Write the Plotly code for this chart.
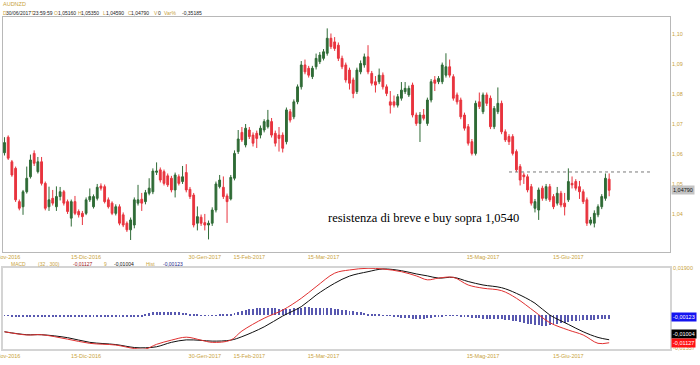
import pandas as pd
import plotly.graph_objects as go

# ---------------- data ----------------
dates = [d.strftime("%Y-%m-%d") for d in pd.bdate_range("2016-11-15", "2017-06-30")]

opens = [1.0604,1.0656,1.0574,1.0552,1.0441,1.0424,1.0474,1.0524,1.0602,1.0541,
         1.0574,1.0502,1.0424,1.0452,1.0424,1.0458,1.0474,1.0441,1.0386,1.0441,
         1.0408,1.0402,1.0402,1.0447,1.0424,1.0452,1.0493,1.0491,1.0447,1.0436,
         1.0402,1.0424,1.0397,1.0369,1.0347,1.0363,1.0436,1.0449,1.0441,1.0469,
         1.0474,1.0539,1.0547,1.0541,1.0527,1.0519,1.0480,1.0524,1.0508,1.0538,
         1.0482,1.0463,1.0369,1.0389,1.0371,1.0363,1.0369,1.0413,1.0491,1.0489,
         1.0460,1.0450,1.0519,1.0608,1.0672,1.0630,1.0680,1.0663,1.0669,1.0663,
         1.0680,1.0691,1.0708,1.0669,1.0663,1.0663,1.0641,1.0741,1.0724,1.0774,
         1.0824,1.0897,1.0886,1.0858,1.0891,1.0908,1.0919,1.0936,1.0986,1.0974,
         1.0963,1.0919,1.0897,1.0880,1.0847,1.0808,1.0874,1.0897,1.0924,1.0869,
         1.0841,1.0841,1.0863,1.0824,1.0774,1.0774,1.0763,1.0786,1.0808,1.0797,
         1.0830,1.0730,1.0702,1.0730,1.0702,1.0780,1.0847,1.0841,1.0841,1.0863,
         1.0891,1.0858,1.0797,1.0780,1.0730,1.0691,1.0641,1.0602,1.0774,1.0741,
         1.0797,1.0786,1.0691,1.0741,1.0769,1.0674,1.0658,1.0658,1.0608,1.0558,
         1.0530,1.0524,1.0491,1.0419,1.0413,1.0486,1.0452,1.0491,1.0458,1.0436,
         1.0469,1.0436,1.0447,1.0502,1.0508,1.0491,1.0474,1.0447,1.0369,1.0369,
         1.0397,1.0424,1.0452,1.0516]
highs = [1.0656,1.0662,1.0580,1.0558,1.0448,1.0480,1.0558,1.0598,1.0612,1.0590,
         1.0590,1.0508,1.0491,1.0480,1.0492,1.0490,1.0480,1.0448,1.0448,1.0460,
         1.0415,1.0410,1.0455,1.0485,1.0465,1.0500,1.0502,1.0498,1.0455,1.0442,
         1.0432,1.0432,1.0405,1.0375,1.0388,1.0455,1.0497,1.0470,1.0480,1.0519,
         1.0552,1.0572,1.0555,1.0548,1.0535,1.0527,1.0538,1.0532,1.0560,1.0566,
         1.0490,1.0470,1.0425,1.0398,1.0400,1.0378,1.0422,1.0508,1.0530,1.0525,
         1.0468,1.0530,1.0612,1.0680,1.0690,1.0700,1.0690,1.0672,1.0678,1.0695,
         1.0716,1.0747,1.0720,1.0678,1.0690,1.0672,1.0755,1.0750,1.0782,1.0832,
         1.0910,1.0915,1.0894,1.0894,1.0935,1.0940,1.0950,1.1019,1.1002,1.0990,
         1.0972,1.0928,1.0905,1.0888,1.0855,1.0888,1.0912,1.0935,1.0963,1.0877,
         1.0860,1.0885,1.0872,1.0832,1.0810,1.0795,1.0800,1.0840,1.0840,1.0828,
         1.0838,1.0738,1.0740,1.0750,1.0788,1.0850,1.0860,1.0860,1.0905,1.0936,
         1.0915,1.0866,1.0805,1.0788,1.0738,1.0700,1.0650,1.0778,1.0805,1.0805,
         1.0805,1.0795,1.0760,1.0822,1.0778,1.0682,1.0666,1.0666,1.0615,1.0566,
         1.0538,1.0532,1.0500,1.0450,1.0488,1.0494,1.0500,1.0500,1.0466,1.0490,
         1.0477,1.0470,1.0552,1.0525,1.0516,1.0510,1.0482,1.0455,1.0390,1.0412,
         1.0432,1.0466,1.0535,1.0535]
lows = [1.0595,1.0580,1.0524,1.0440,1.0412,1.0397,1.0468,1.0518,1.0560,1.0535,
        1.0495,1.0412,1.0410,1.0428,1.0410,1.0445,1.0428,1.0400,1.0358,1.0396,
        1.0388,1.0363,1.0396,1.0440,1.0418,1.0445,1.0478,1.0435,1.0418,1.0396,
        1.0395,1.0362,1.0356,1.0340,1.0313,1.0352,1.0428,1.0410,1.0432,1.0462,
        1.0466,1.0530,1.0505,1.0495,1.0490,1.0472,1.0455,1.0495,1.0500,1.0472,
        1.0450,1.0355,1.0345,1.0360,1.0345,1.0315,1.0360,1.0405,1.0485,1.0450,
        1.0370,1.0445,1.0512,1.0600,1.0640,1.0622,1.0650,1.0625,1.0620,1.0652,
        1.0672,1.0685,1.0655,1.0625,1.0608,1.0605,1.0632,1.0705,1.0716,1.0766,
        1.0815,1.0866,1.0855,1.0850,1.0882,1.0900,1.0912,1.0928,1.0950,1.0944,
        1.0910,1.0883,1.0838,1.0815,1.0786,1.0800,1.0866,1.0888,1.0866,1.0828,
        1.0805,1.0833,1.0815,1.0793,1.0735,1.0755,1.0755,1.0778,1.0800,1.0790,
        1.0722,1.0694,1.0640,1.0712,1.0694,1.0772,1.0810,1.0833,1.0833,1.0855,
        1.0855,1.0778,1.0765,1.0716,1.0678,1.0628,1.0595,1.0595,1.0750,1.0733,
        1.0760,1.0683,1.0683,1.0733,1.0666,1.0640,1.0630,1.0595,1.0540,1.0495,
        1.0500,1.0472,1.0428,1.0405,1.0380,1.0444,1.0444,1.0440,1.0416,1.0428,
        1.0422,1.0395,1.0440,1.0485,1.0478,1.0450,1.0433,1.0360,1.0362,1.0355,
        1.0389,1.0416,1.0444,1.0459]
closes = [1.0638,1.0586,1.0530,1.0447,1.0419,1.0474,1.0519,1.0580,1.0569,1.0574,
          1.0502,1.0419,1.0447,1.0436,1.0458,1.0474,1.0436,1.0408,1.0441,1.0402,
          1.0397,1.0391,1.0447,1.0458,1.0458,1.0489,1.0486,1.0441,1.0424,1.0402,
          1.0424,1.0369,1.0363,1.0347,1.0380,1.0447,1.0447,1.0436,1.0471,1.0486,
          1.0543,1.0543,1.0513,1.0502,1.0497,1.0480,1.0530,1.0502,1.0524,1.0480,
          1.0458,1.0363,1.0391,1.0369,1.0363,1.0369,1.0413,1.0500,1.0513,1.0458,
          1.0441,1.0522,1.0602,1.0650,1.0647,1.0686,1.0658,1.0636,1.0652,1.0686,
          1.0708,1.0713,1.0663,1.0636,1.0652,1.0619,1.0747,1.0713,1.0774,1.0824,
          1.0897,1.0874,1.0863,1.0886,1.0919,1.0930,1.0941,1.0986,1.0958,1.0952,
          1.0919,1.0891,1.0847,1.0836,1.0802,1.0880,1.0902,1.0924,1.0874,1.0836,
          1.0830,1.0863,1.0824,1.0802,1.0763,1.0763,1.0791,1.0813,1.0819,1.0819,
          1.0730,1.0702,1.0730,1.0719,1.0780,1.0841,1.0836,1.0852,1.0897,1.0891,
          1.0863,1.0786,1.0774,1.0724,1.0686,1.0636,1.0602,1.0769,1.0758,1.0797,
          1.0769,1.0691,1.0752,1.0769,1.0674,1.0647,1.0641,1.0602,1.0547,1.0513,
          1.0524,1.0480,1.0436,1.0441,1.0480,1.0452,1.0491,1.0447,1.0424,1.0469,
          1.0430,1.0424,1.0508,1.0497,1.0486,1.0474,1.0441,1.0369,1.0380,1.0402,
          1.0424,1.0458,1.0519,1.0479]

hist = [-0.0003,-0.0003,-0.0004,-0.0005,-0.0007,-0.0008,-0.0008,-0.0008,-0.0009,-0.0008,
        -0.0008,-0.0008,-0.0009,-0.0008,-0.0008,-0.0009,-0.0010,-0.0010,-0.0010,-0.0010,
        -0.0010,-0.0010,-0.0009,-0.0009,-0.0010,-0.0010,-0.0010,-0.0010,-0.0010,-0.0009,
        -0.0009,-0.0010,-0.0010,-0.0010,-0.0009,-0.0008,-0.0006,-0.0004,0.0004,0.0008,
        0.0011,0.0012,0.0012,0.0012,0.0012,0.0012,0.0011,0.0011,0.0010,0.0009,
        0.0006,0.0002,0.0001,-0.0002,-0.0003,-0.0003,-0.0002,-0.0001,0.0002,0.0003,
        0.0002,0.0004,0.0010,0.0014,0.0018,0.0021,0.0024,0.0026,0.0028,0.0029,
        0.0030,0.0030,0.0029,0.0028,0.0026,0.0025,0.0024,0.0026,0.0027,0.0028,
        0.0030,0.0031,0.0031,0.0030,0.0030,0.0030,0.0029,0.0030,0.0028,0.0026,
        0.0024,0.0022,0.0020,0.0018,0.0016,0.0014,0.0012,0.0009,0.0006,0.0003,
        0.0002,0.0001,-0.0001,-0.0002,-0.0003,-0.0008,-0.0010,-0.0012,-0.0013,-0.0014,
        -0.0015,-0.0016,-0.0016,-0.0015,-0.0014,-0.0012,-0.0010,-0.0008,-0.0006,-0.0003,
        -0.0002,-0.0001,-0.0002,-0.0004,-0.0008,-0.0010,-0.0012,-0.0013,-0.0014,-0.0015,
        -0.0015,-0.0016,-0.0016,-0.0017,-0.0018,-0.0019,-0.0021,-0.0023,-0.0026,-0.0029,
        -0.0032,-0.0035,-0.0038,-0.0040,-0.0042,-0.0043,-0.0043,-0.0042,-0.0040,-0.0037,
        -0.0034,-0.0031,-0.0028,-0.0026,-0.0024,-0.0023,-0.0022,-0.0021,-0.0020,-0.0019,
        -0.0018,-0.0017,-0.0016,-0.0015]

line_idx = [0, 6, 10, 17, 23, 30, 35, 38, 41, 45, 49, 53, 56, 61, 64, 70, 75, 80, 84,
            89, 93, 98, 102, 107, 111, 114, 117, 121, 125, 129, 134, 138, 143, 147,
            152, 156, 160, 163]
macd_vals = [-0.0068,-0.0081,-0.0080,-0.0098,-0.0115,-0.0122,-0.0136,-0.0138,-0.0119,
             -0.0102,-0.0090,-0.0102,-0.0111,-0.0102,-0.0065,-0.0013,0.0020,0.0068,
             0.0115,0.0170,0.0183,0.0190,0.0187,0.0176,0.0159,0.0143,0.0150,0.0153,
             0.0122,0.0109,0.0099,0.0068,0.0013,-0.0031,-0.0061,-0.0081,-0.0115,-0.01127]
signal_vals = [-0.0068,-0.0080,-0.0080,-0.0092,-0.0111,-0.0120,-0.0132,-0.0133,-0.0129,
               -0.0111,-0.0101,-0.0103,-0.0106,-0.0102,-0.0088,-0.0048,-0.0004,0.0034,
               0.0081,0.0129,0.0158,0.0176,0.0187,0.0180,0.0167,0.0159,0.0150,0.0153,
               0.0136,0.0122,0.0111,0.0088,0.0048,0.0000,-0.0038,-0.0068,-0.0091,-0.01004]

tick_dates = ["2016-11-15", "2016-12-15", "2017-01-30", "2017-02-15",
              "2017-03-15", "2017-05-15", "2017-06-15"]
tick_labels = ["15-Nov-2016", "15-Dic-2016", "30-Gen-2017", "15-Feb-2017",
               "15-Mar-2017", "15-Mag-2017", "15-Giu-2017"]
price_ticks = [1.04, 1.05, 1.06, 1.07, 1.08, 1.09, 1.10]
price_tick_labels = ["1,04", "1,05", "1,06", "1,07", "1,08", "1,09", "1,10"]
macd_ticks = [0.019, -0.01357]
macd_tick_labels = ["0,01900", "-0,01357"]
resistance = 1.0540
last_close_label = "1,04790"

# ---------------- styling ----------------
GREEN = "#2f6b36"
RED = "#e8343e"
GOLD = "#c9a33c"
FONT = "Liberation Sans, Arial, sans-serif"
W, H = 700, 365
ML, MR, MT, MB = 3, 30, 17, 16
PW, PH = W - ML - MR, H - MT - MB

def pxx(x):
    return (x - ML) / PW

def pxy(y):
    return (H - MB - y) / PH

xi = list(range(len(dates)))
tick_pos = [dates.index(d) for d in tick_dates]

fig = go.Figure()
fig.add_trace(go.Candlestick(
    x=xi, open=opens, high=highs, low=lows, close=closes,
    xaxis="x", yaxis="y", whiskerwidth=0, showlegend=False,
    increasing=dict(line=dict(color=GREEN, width=1), fillcolor=GREEN),
    decreasing=dict(line=dict(color=RED, width=1), fillcolor=RED),
))
fig.add_trace(go.Bar(
    x=xi, y=hist, xaxis="x2", yaxis="y2", width=0.25,
    marker=dict(color="#5858b0", line=dict(width=0)), showlegend=False,
))
fig.add_trace(go.Scatter(
    x=line_idx, y=signal_vals, mode="lines", xaxis="x2", yaxis="y2",
    line=dict(color="#101010", width=1, shape="spline"), showlegend=False,
))
fig.add_trace(go.Scatter(
    x=line_idx, y=macd_vals, mode="lines", xaxis="x2", yaxis="y2",
    line=dict(color="#e03030", width=1, shape="spline"), showlegend=False,
))

# resistance dashed line
fig.add_shape(type="line", xref="x", yref="y", x0=136, x1=174,
              y0=resistance, y1=resistance,
              line=dict(color="#7a7a7a", width=1, dash="3px,3px"))

ann = []
def txt(x, y, s, color, size=5, bg=None, family=FONT, anchor="left"):
    d = dict(xref="paper", yref="paper", x=pxx(x), y=pxy(y), text=s,
             showarrow=False, xanchor=anchor, yanchor="middle",
             font=dict(family=family, size=size, color=color))
    if bg:
        d.update(bgcolor=bg, borderpad=1)
    else:
        d.update(borderpad=0)
    ann.append(d)

# header
txt(2, 4.5, "AUDNZD", GOLD, 5.5)
header = [("D", 1.5, GOLD), ("30/06/2017", 4.5, "#222"), ("T", 29.5, GOLD),
          ("23:59:59", 32, "#222"), ("O", 53, GOLD), ("1,05160", 56.5, "#222"),
          ("H", 77, GOLD), ("1,05350", 80, "#222"), ("L", 102, GOLD),
          ("1,04590", 105, "#222"), ("C", 127, GOLD), ("1,04790", 130, "#222"),
          ("V", 153, GOLD), ("0", 157, "#222"), ("Var%", 163, GOLD),
          ("-0,35185", 181, "#222")]
for s, x, c in header:
    txt(x, 12.5, s, c, 5)

# MACD label row
macd_hdr = [("MACD", 10, GOLD), ("(32 , 300)", 37, GOLD), ("-0,01127", 72, "#a01818"),
            ("9", 103, GOLD), ("-0,01004", 113, "#111"), ("Hist", 145, GOLD),
            ("-0,00123", 162, "#22228a")]
for s, x, c in macd_hdr:
    txt(x, 263.5, s, c, 5)

# right-side value boxes
txt(671, 190, last_close_label, "#111", 5.5, bg="#c4c4c4")
txt(671, 317, "-0,00123", "#ffffff", 5.5, bg="#1414f0")
txt(671, 334, "-0,01004", "#ffffff", 5.5, bg="#000000")
txt(671, 343, "-0,01127", "#ffffff", 5.5, bg="#ff1414")

# comment text
txt(423.5, 218, "resistenza di breve e buy sopra 1,0540", "#000000", 12.5,
    family="Liberation Serif, Times New Roman, serif", anchor="center")

axis_common = dict(showgrid=False, zeroline=False, ticks="", automargin=False,
                   tickfont=dict(family=FONT, size=5.5, color=GOLD))

fig.update_layout(
    width=W, height=H, margin=dict(l=ML, r=MR, t=MT, b=MB, autoexpand=False),
    paper_bgcolor="white", plot_bgcolor="white", showlegend=False,
    bargap=0, annotations=ann,
    xaxis=dict(domain=[0, 1], anchor="y", range=[-0.4, 179.4],
               tickmode="array", tickvals=tick_pos, ticktext=tick_labels,
               ticklabelstandoff=-1, ticklabeloverflow="allow",
               showline=True, mirror=True, linecolor="#b8b8b8", linewidth=1,
               rangeslider=dict(visible=False), **axis_common),
    yaxis=dict(domain=[(H - MB - 252) / PH, 1], anchor="x", side="right",
               range=[1.0273, 1.1057], tickmode="array", tickvals=price_ticks,
               ticktext=price_tick_labels, showline=True, mirror=True,
               linecolor="#b8b8b8", linewidth=1, **axis_common),
    xaxis2=dict(domain=[0, 1], anchor="y2", matches="x",
                tickmode="array", tickvals=tick_pos, ticktext=tick_labels,
                ticklabeloverflow="allow",
                showline=True, mirror=True, linecolor="#d4d4d4", linewidth=2,
                **axis_common),
    yaxis2=dict(domain=[0, (H - MB - 268) / PH], anchor="x2", side="right",
                range=[-0.0138, 0.0191], tickmode="array", tickvals=macd_ticks,
                ticktext=macd_tick_labels, showline=True, mirror=True,
                linecolor="#d4d4d4", linewidth=2, **axis_common),
)

fig.write_html("out.html", config={"displayModeBar": False},
               post_script="document.body.style.margin='0';document.body.style.overflow='hidden';")
